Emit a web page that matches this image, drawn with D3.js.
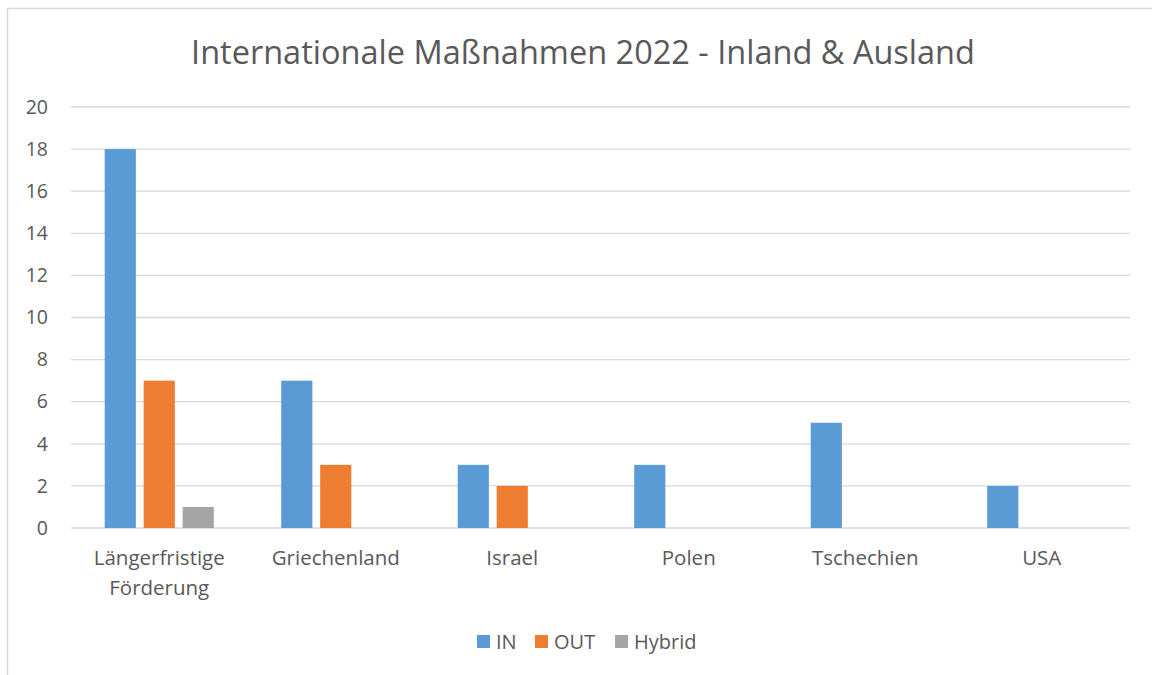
<!DOCTYPE html>
<html>
<head>
<meta charset="utf-8">
<script src="https://cdn.jsdelivr.net/npm/d3@7"></script>
<style>
  body { margin: 0; background: #fff; }
  svg { font-family: "Open Sans", Calibri, sans-serif; }
</style>
</head>
<body>
<svg id="chart" width="1152" height="675"></svg>
<script>
const categories = [["Längerfristige", "Förderung"], ["Griechenland"], ["Israel"], ["Polen"], ["Tschechien"], ["USA"]];
const seriesNames = ["IN", "OUT", "Hybrid"];
const inValues = [18, 7, 3, 3, 5, 2];
const outValues = [7, 3, 2, 0, 0, 0];
const hybridValues = [1, 0, 0, 0, 0, 0];
const yTicks = [0, 2, 4, 6, 8, 10, 12, 14, 16, 18, 20];

const colors = { "IN": "#5B9BD5", "OUT": "#ED7D31", "Hybrid": "#A5A5A5" };
const catKeys = categories.map(c => c.join(" "));
const rows = catKeys.map((k, i) => ({ cat: k, IN: inValues[i], OUT: outValues[i], Hybrid: hybridValues[i] }));

const svg = d3.select("#chart");
const textColor = "#595959";
const plotLeft = 71, plotRight = 1130, plotTop = 107, plotBottom = 528;

// chart frame
svg.append("path").attr("d", "M7.5,675 V8.5 H1152").attr("fill", "none").attr("stroke", "#D9D9D9").attr("stroke-width", 1.5);

svg.append("text").attr("x", 583).attr("y", 64).attr("text-anchor", "middle")
  .attr("font-size", 32.5).attr("fill", textColor).text("Internationale Maßnahmen 2022 - Inland & Ausland");

const y = d3.scaleLinear().domain([0, 20]).range([plotBottom, plotTop]);
const x0 = d3.scaleBand().domain(catKeys).range([plotLeft, plotRight]).paddingInner(0.382).paddingOuter(0.191);
const x1 = d3.scaleBand().domain(seriesNames).range([0, x0.bandwidth()]).paddingInner(0.2).paddingOuter(0);

// gridlines
svg.append("g").selectAll("line").data(yTicks).join("line")
  .attr("x1", plotLeft).attr("x2", plotRight)
  .attr("y1", d => y(d)).attr("y2", d => y(d))
  .attr("stroke", "#D9D9D9").attr("stroke-width", 1.3);

// y labels
const yAxis = svg.append("g").attr("transform", `translate(${plotLeft - 23},0)`)
  .call(d3.axisLeft(y).tickValues(yTicks).tickSize(0).tickPadding(0));
yAxis.select(".domain").remove();
yAxis.selectAll("text").attr("font-size", 19.5).attr("fill", textColor).attr("font-family", "Open Sans, sans-serif");

// bars
svg.append("g").selectAll("g").data(rows).join("g")
  .attr("transform", d => `translate(${x0(d.cat)},0)`)
  .selectAll("rect").data(d => seriesNames.map(s => ({ key: s, value: d[s] })).filter(v => v.value > 0))
  .join("rect")
  .attr("x", d => x1(d.key)).attr("width", x1.bandwidth())
  .attr("y", d => y(d.value)).attr("height", d => y(0) - y(d.value))
  .attr("fill", d => colors[d.key]);

// category labels
const cl = svg.append("g").selectAll("text").data(categories).join("text")
  .attr("x", (d, i) => x0(catKeys[i]) + x0.bandwidth() / 2)
  .attr("y", 565).attr("text-anchor", "middle")
  .attr("font-size", 20.5).attr("fill", textColor);
cl.selectAll("tspan").data(d => d).join("tspan")
  .attr("x", function() { return this.parentNode.getAttribute("x"); })
  .attr("dy", (d, i) => i === 0 ? 0 : 30)
  .text(d => d);

// legend
const legendX = [477, 535, 615];
const lg = svg.append("g").selectAll("g").data(seriesNames).join("g")
  .attr("transform", (d, i) => `translate(${legendX[i]},635)`);
lg.append("rect").attr("width", 13).attr("height", 13).attr("fill", d => colors[d]);
lg.append("text").attr("x", 19).attr("y", 13.5).attr("font-size", 20).attr("fill", textColor).text(d => d);
</script>
</body>
</html>
